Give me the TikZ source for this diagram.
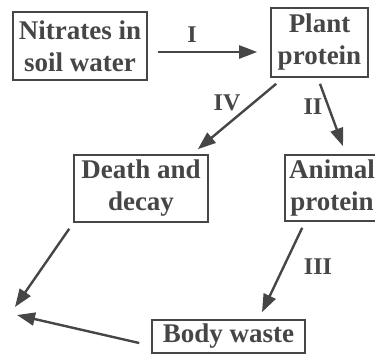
\documentclass[tikz,border=0pt]{standalone}
\usepackage{fontspec}
\setmainfont{Liberation Serif}
\usepackage{tikz}
\usetikzlibrary{positioning, arrows.meta}
\definecolor{inkgray}{RGB}{70, 70, 70}

\begin{document}
\begin{tikzpicture}[x=1pt, y=-1pt,
  stage/.style={draw=inkgray, line width=1.6pt, text=inkgray, align=center,
    font=\fontsize{27}{32}\selectfont\bfseries, inner sep=0pt},
  flow/.style={draw=inkgray, line width=2.4pt, -{Triangle[length=18pt, width=13pt]}},
  step label/.style={text=inkgray, font=\fontsize{24}{28}\selectfont\bfseries}]
\useasboundingbox (0,0) rectangle (375,354);
% boxes
\node[stage, minimum width=134pt, minimum height=68pt] (nitrate) at (80,46) {Nitrates in\\soil water};
\node[stage, minimum width=97pt, minimum height=69pt] (plant) at (319.5,42.5) {Plant\\protein};
\node[stage, minimum width=134pt, minimum height=67pt] (decay) at (141,188.5) {Death and\\decay};
\node[stage, minimum width=94pt, minimum height=66pt] (animal) at (332,188) {Animal\\protein};
\node[stage, minimum width=153pt, minimum height=33pt] (waste) at (228.5,336.5) {Body waste};
\coordinate (soilA) at (15,307);
\coordinate (soilB) at (17,315);
% arrows
\draw[flow] ([shift={(10,6)}]nitrate.east) -- ([shift={(-13,9.5)}]plant.west);
\draw[flow] ([shift={(6,6)}]plant.south west) -- ([shift={(-11,-5)}]decay.north east);
\draw[flow] ([shift={(0.5,6)}]plant.south) -- ([shift={(11,-8)}]animal.north);
\draw[flow] ([shift={(-4,6)}]decay.south west) -- (soilA);
\draw[flow] ([shift={(18,6)}]animal.south west) -- ([shift={(33.5,-7)}]waste.north);
\draw[flow] ([shift={(-12,6.5)}]waste.west) -- (soilB);
% step labels
\node[step label] (stepI) at (192,35) {I};
\node[step label] (stepIV) at (227,103) {IV};
\node[step label] (stepII) at (313,107) {II};
\node[step label] (stepIII) at (318,267) {III};
\end{tikzpicture}
\end{document}
